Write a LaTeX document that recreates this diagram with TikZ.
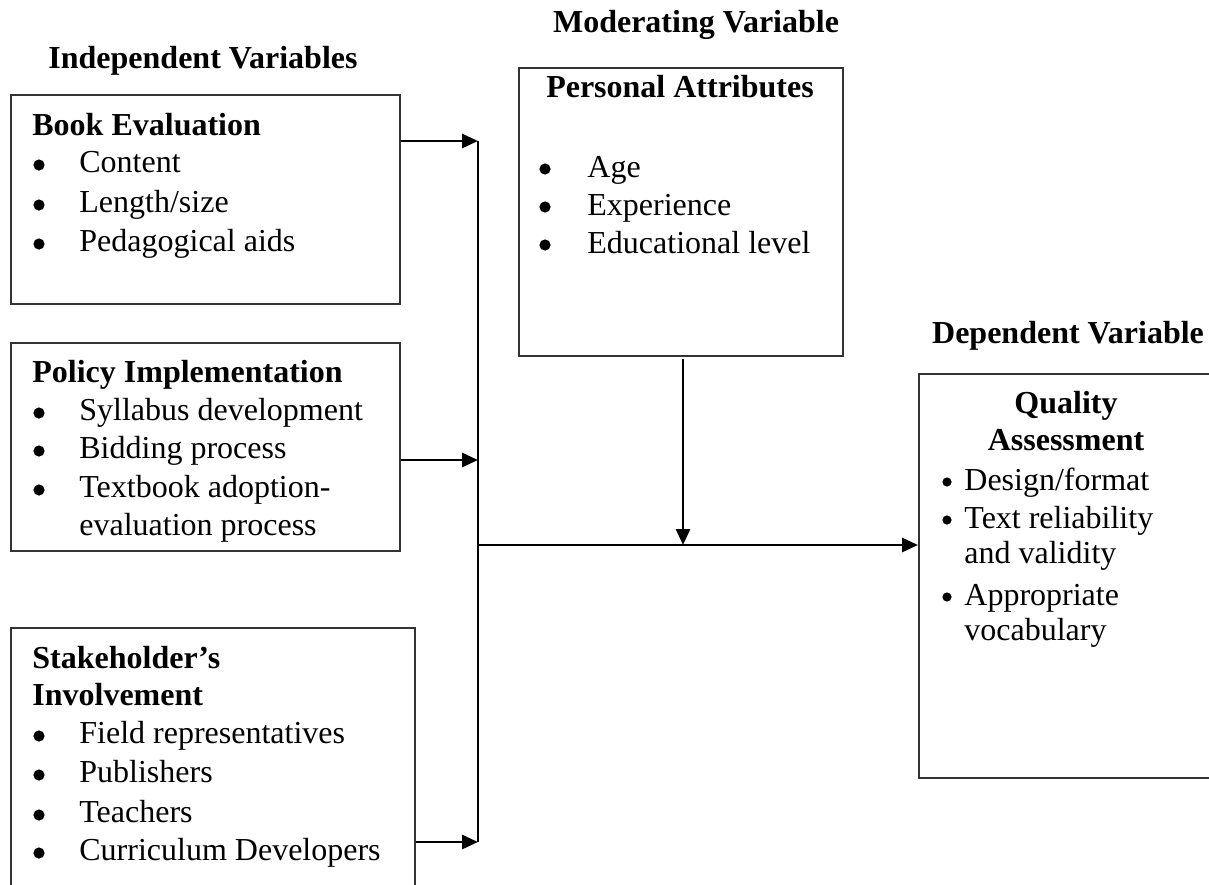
\documentclass[tikz,border=0pt]{standalone}
\usepackage{fontspec}
\setmainfont{Liberation Serif}
\usetikzlibrary{arrows.meta}
\begin{document}
\begin{tikzpicture}[x=0.5pt,y=-0.5pt,
  box/.style={draw=black!80, line width=0.8pt, rectangle, inner sep=0pt, anchor=north west},
  txt/.style={inner sep=0pt, anchor=base west, font=\fontsize{16}{19}\selectfont},
  hd/.style={inner sep=0pt, anchor=base west, font=\fontsize{16}{19}\selectfont\bfseries},
  hdc/.style={inner sep=0pt, anchor=base, font=\fontsize{16}{19}\selectfont\bfseries},
  bul/.style={circle, fill=black, inner sep=0pt, minimum size=5.6pt},
  sbul/.style={circle, fill=black, inner sep=0pt, minimum size=4.6pt},
  conn/.style={line width=1.4pt, -{Triangle[length=8pt,width=7pt]}},
  bus/.style={line width=1pt}]
\useasboundingbox (0,0) rectangle (1209,884);
\clip (0,0) rectangle (1209,884);

% group headings
\node[hdc] (hind) at (203,68) {Independent Variables};
\node[hdc] (hmod) at (696,32) {Moderating Variable};
\node[hdc] (hdep) at (1068,343) {Dependent Variable};

% boxes
\node[box, minimum width=194.5pt, minimum height=104.5pt] (book) at (10,94) {};
\node[box, minimum width=194.5pt, minimum height=104pt] (policy) at (10,342) {};
\node[box, minimum width=202pt, minimum height=136.5pt] (stake) at (10,627) {};
\node[box, minimum width=162pt, minimum height=144pt] (pers) at (518,67) {};
\node[box, minimum width=156pt, minimum height=202pt] (qual) at (918,373) {};

% Book Evaluation
\node[hd] (bt) at (32,135) {Book Evaluation};
\node[bul] (bb1) at (39,165) {}; \node[txt] (bi1) at (79,172) {Content};
\node[bul] (bb2) at (39,205) {}; \node[txt] (bi2) at (79,212) {Length/size};
\node[bul] (bb3) at (39,244) {}; \node[txt] (bi3) at (79,251) {Pedagogical aids};

% Policy Implementation
\node[hd] (pt) at (32,382) {Policy Implementation};
\node[bul] (pb1) at (39,413) {}; \node[txt] (pi1) at (79,420) {Syllabus development};
\node[bul] (pb2) at (39,451) {}; \node[txt] (pi2) at (79,458) {Bidding process};
\node[bul] (pb3) at (39,490) {}; \node[txt] (pi3) at (79,497) {Textbook adoption-};
\node[txt] (pi4) at (79,535) {evaluation process};

% Stakeholder's Involvement
\node[hd] (st1) at (32,668) {Stakeholder’s};
\node[hd] (st2) at (32,705) {Involvement};
\node[bul] (sb1) at (39,736) {}; \node[txt] (si1) at (79,743) {Field representatives};
\node[bul] (sb2) at (39,775) {}; \node[txt] (si2) at (79,782) {Publishers};
\node[bul] (sb3) at (39,815) {}; \node[txt] (si3) at (79,822) {Teachers};
\node[bul] (sb4) at (39,853) {}; \node[txt] (si4) at (79,860) {Curriculum Developers};

% Personal Attributes
\node[hdc] (mt) at (680,97) {Personal Attributes};
\node[bul] (mb1) at (545,169) {}; \node[txt] (mi1) at (587,177) {Age};
\node[bul] (mb2) at (545,207) {}; \node[txt] (mi2) at (587,215) {Experience};
\node[bul] (mb3) at (545,245) {}; \node[txt] (mi3) at (587,253) {Educational level};

% Quality Assessment
\node[hdc] (qt1) at (1066,413) {Quality};
\node[hdc] (qt2) at (1066,450) {Assessment};
\node[sbul] (qb1) at (947,482) {}; \node[txt] (qi1) at (964,490) {Design/format};
\node[sbul] (qb2) at (947,520) {}; \node[txt] (qi2) at (964,528) {Text reliability};
\node[txt] (qi3) at (964,563) {and validity};
\node[sbul] (qb3) at (947,597) {}; \node[txt] (qi4) at (964,605) {Appropriate};
\node[txt] (qi5) at (964,640) {vocabulary};

% connectors
\coordinate (j1) at (478,141);
\coordinate (j2) at (478,460);
\coordinate (j3) at (478,842);
\coordinate (jm) at (478,545);
\coordinate (dm) at (683,545);
\coordinate (ds) at (683,359);

\draw[bus] (j1) -- (j3);
\draw[conn] (book.east |- j1) -- (j1);
\draw[conn] (policy.east |- j2) -- (j2);
\draw[conn] (stake.east |- j3) -- (j3);
\draw[conn] (jm) -- (qual.west |- jm);
\draw[conn] (ds) -- (dm);
\end{tikzpicture}
\end{document}
